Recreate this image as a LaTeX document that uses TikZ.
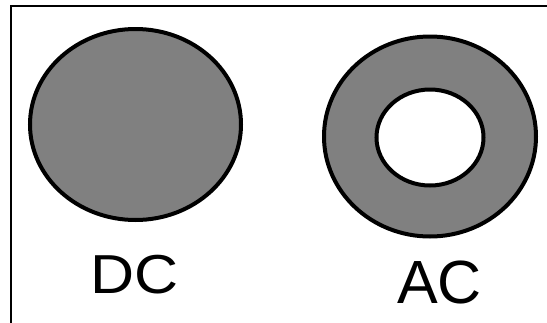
\documentclass[tikz,border=0pt]{standalone}
\usepackage{fontspec}
\setmainfont{Liberation Sans}
\definecolor{discgray}{HTML}{808080}
\begin{document}
\begin{tikzpicture}[x=1pt,y=-1pt,
  disc/.style={draw=black,line width=4pt,fill=discgray},
  hole/.style={draw=black,line width=4pt,fill=white},
  frameline/.style={draw=black,line width=2pt},
  caption/.style={anchor=base,inner sep=0pt,font=\fontsize{61}{61}\selectfont}]
  \useasboundingbox (0,0) rectangle (547,322);
  % frame, cut off at the right and bottom
  \draw[frameline] (11,340) -- (11,6) -- (560,6);
  % direct current: full disc
  \draw[disc] (135.5,124.5) ellipse [x radius=105.5, y radius=95.5];
  % alternating current: ring (skin effect)
  \draw[disc] (430,136.5) ellipse [x radius=106, y radius=100];
  \draw[hole] (430,137.5) ellipse [x radius=53.5, y radius=48];
  \node[caption,yscale=0.9] (dc) at (134.5,293) {DC};
  \node[caption] (ac) at (439.5,303) {AC};
\end{tikzpicture}
\end{document}
